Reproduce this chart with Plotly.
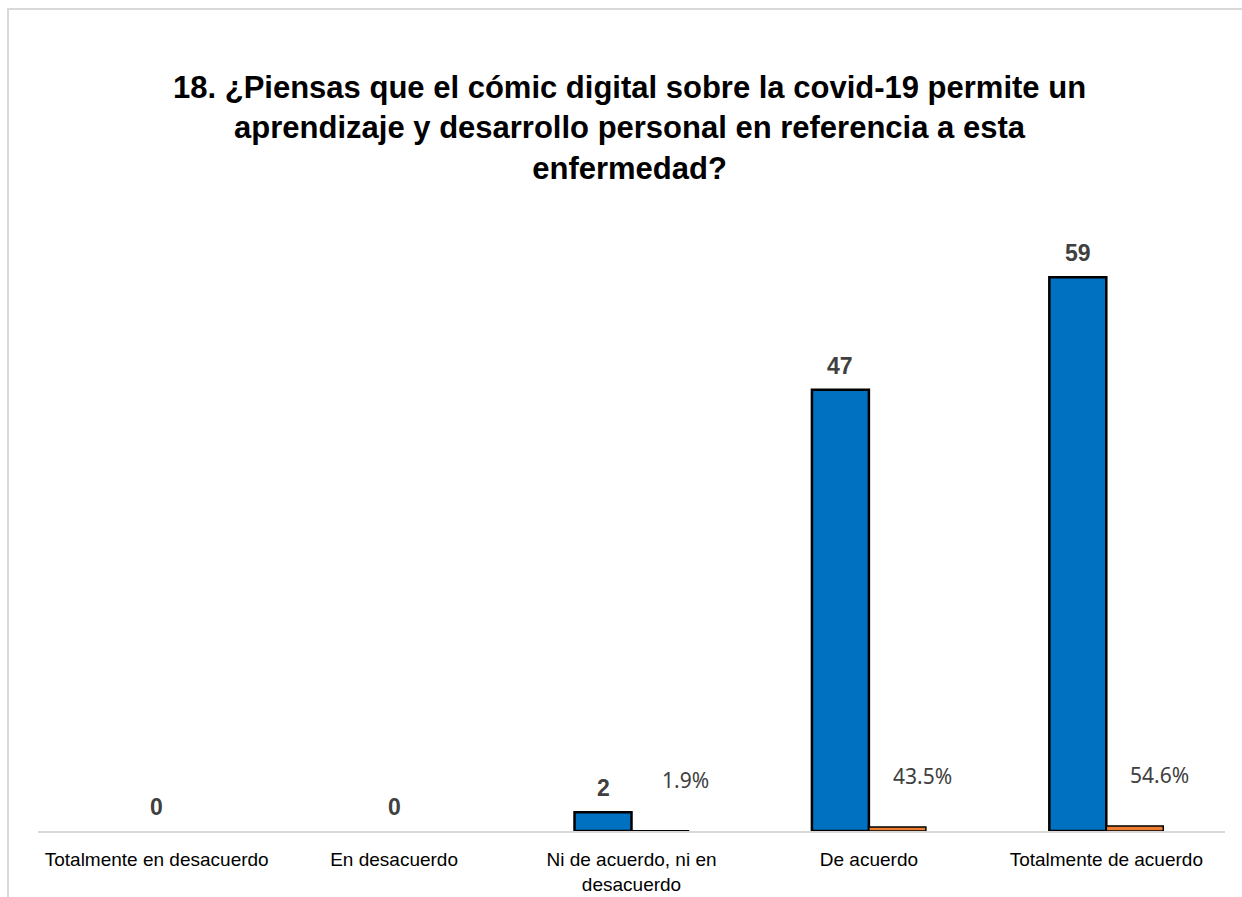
import plotly.graph_objects as go

# Survey answers for question 18
categories = [
    "Totalmente en desacuerdo",
    "En desacuerdo",
    "Ni de acuerdo, ni en desacuerdo",
    "De acuerdo",
    "Totalmente de acuerdo",
]
tick_labels = [
    "Totalmente en desacuerdo",
    "En desacuerdo",
    "Ni de acuerdo, ni en<br>desacuerdo",
    "De acuerdo",
    "Totalmente de acuerdo",
]
counts = [0, 0, 2, 47, 59]
shares = [None, None, 0.019, 0.435, 0.546]

title_lines = [
    "18. ¿Piensas que el cómic digital sobre la covid-19 permite un",
    "aprendizaje y desarrollo personal en referencia a esta",
    "enfermedad?",
]

BLUE = "#0070C0"
ORANGE = "#ED7D31"
LABEL_GREY = "#404040"

# Plot-area geometry in pixels
W, H = 1242, 897
L, R, T, B = 38, 17, 174, 66
PW, PH = W - L - R, H - T - B


def px_x(p):
    return (p - L) / PW


def px_y(p):
    return (H - B - p) / PH


fig = go.Figure()
fig.add_trace(go.Bar(
    x=categories, y=counts, name="Frecuencia",
    marker=dict(color=BLUE,
                line=dict(color="black", width=[2.5 if c else 0 for c in counts])),
    offsetgroup="a",
))
fig.add_trace(go.Bar(
    x=categories, y=shares, name="Porcentaje",
    marker=dict(color=ORANGE, line=dict(color="black", width=1.5)),
    offsetgroup="b",
))

annotations = []
half = 28.5
for cat, c in zip(categories, counts):
    annotations.append(dict(
        x=cat, y=c, xref="x", yref="y", text=f"<b>{c}</b>", showarrow=False,
        xshift=-half if c else 0, yshift=9, yanchor="bottom",
        font=dict(family="Arial, Liberation Sans", size=23, color=LABEL_GREY),
    ))
for cat, s in zip(categories, shares):
    if s is None:
        continue
    annotations.append(dict(
        x=cat, y=s, xref="x", yref="y", text=f"{s*100:.1f}%", showarrow=False,
        xshift=half + 25, yshift=35, yanchor="bottom",
        font=dict(family="Noto Sans, Open Sans", size=21, color=LABEL_GREY),
    ))

# Chart title
annotations.append(dict(
    x=px_x(629), y=px_y(128), xref="paper", yref="paper",
    text="<b>" + "<br>".join(title_lines) + "</b>", showarrow=False,
    xanchor="center", yanchor="middle", align="center",
    font=dict(family="Arial, Liberation Sans", size=31, color="black"),
))

fig.update_layout(
    width=W, height=H,
    margin=dict(l=L, r=R, t=T, b=B, autoexpand=False),
    paper_bgcolor="white", plot_bgcolor="white",
    showlegend=False,
    barmode="group", bargap=0.52, bargroupgap=0,
    annotations=annotations,
    shapes=[dict(
        type="rect", xref="paper", yref="paper",
        x0=px_x(8), x1=px_x(1400), y0=px_y(1000), y1=px_y(9),
        line=dict(color="#d9d9d9", width=2), layer="below",
    )],
)
fig.update_xaxes(
    tickvals=categories, ticktext=tick_labels, automargin=False,
    showline=True, linecolor="#d9d9d9", linewidth=2,
    ticks="", showgrid=False, ticklabelstandoff=10,
    tickfont=dict(family="Arial, Liberation Sans", size=19, color="black"),
)
fig.update_yaxes(
    range=[0, 70], visible=False, showgrid=False, zeroline=False,
    automargin=False,
)

fig.write_html("out.html")
